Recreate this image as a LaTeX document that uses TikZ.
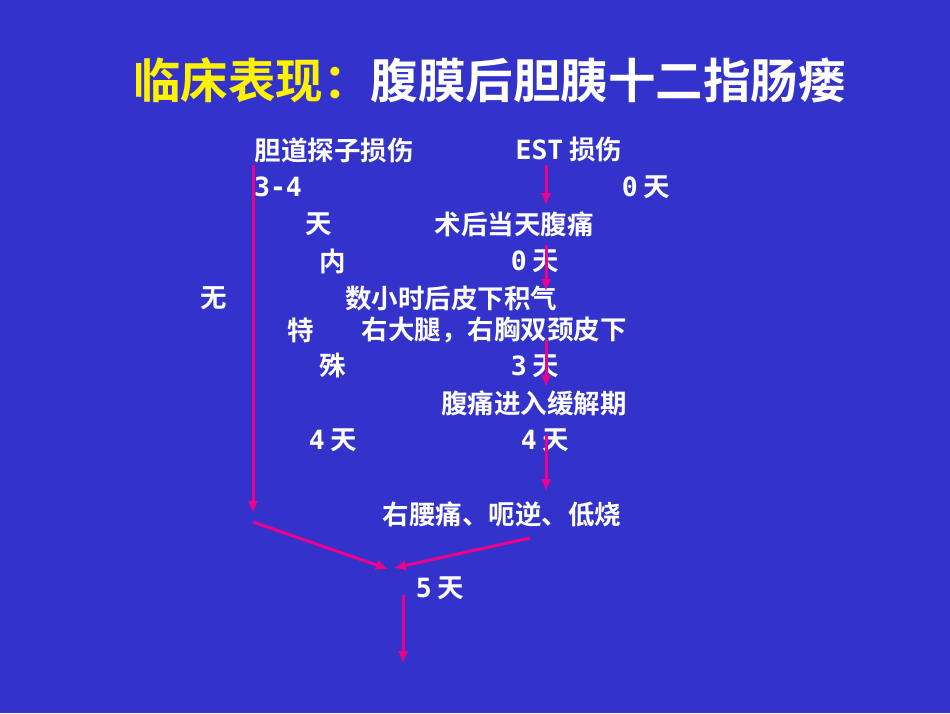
\documentclass[tikz,border=0pt]{standalone}
\usepackage{fontspec}
\usetikzlibrary{arrows.meta}
\setmainfont{Noto Sans CJK SC}[BoldFont={Noto Sans CJK SC Bold}]
\newfontfamily\digits{DejaVu Sans Mono}
\begin{document}
\begin{tikzpicture}
  [x=1pt,y=-1pt]
  \tikzstyle{txt} = [text=white, font=\bfseries\fontsize{26.5}{28}\selectfont, inner sep=0]
  \tikzstyle{edge_style} = [draw=magenta, line width=3, -{Latex[length=12pt,width=11pt]}]
  \fill[fill={rgb,255:red,51;green,51;blue,204}] (0,0) rectangle (950,713);
  \useasboundingbox (0,0) rectangle (950,713);

  \node[inner sep=0, anchor=west, font=\bfseries\fontsize{47.5}{50}\selectfont] (title) at (133,80)
    {\textcolor{yellow}{临床表现：}\textcolor{white}{腹膜后胆胰十二指肠瘘}};

  \node[txt] (probe) at (334,150) {胆道探子损伤};
  \node[txt] (est) at (569,150) {{\digits EST} 损伤};
  \node[txt] (d34) at (278,187) {\digits 3-4};
  \node[txt] (d0a) at (646,187) {{\digits 0} 天};
  \node[txt] (tian) at (319,224) {天};
  \node[txt] (pain) at (514,224) {术后当天腹痛};
  \node[txt] (nei) at (333,261) {内};
  \node[txt] (d0b) at (535,261) {{\digits 0} 天};
  \node[txt] (wu) at (214,298) {无};
  \node[txt] (gas) at (451,298) {数小时后皮下积气};
  \node[txt] (te) at (301,330) {特};
  \node[txt] (sites) at (494,330) {右大腿，右胸双颈皮下};
  \node[txt] (shu) at (333,366) {殊};
  \node[txt] (d3) at (535,366) {{\digits 3} 天};
  \node[txt] (relief) at (534,403) {腹痛进入缓解期};
  \node[txt] (d4a) at (333,440) {{\digits 4} 天};
  \node[txt] (d4b) at (545,440) {{\digits 4} 天};
  \node[txt] (waist) at (502,514) {右腰痛、呃逆、低烧};
  \node[txt] (d5) at (440,588) {{\digits 5} 天};

  \coordinate (l0) at (253,165);
  \coordinate (l1) at (253,513);
  \coordinate (r0) at (546,165);
  \coordinate (r1) at (546,205);
  \coordinate (r2) at (546,245);
  \coordinate (r3) at (546,291);
  \coordinate (r4) at (546,340);
  \coordinate (r5) at (546,387);
  \coordinate (r6) at (546,435);
  \coordinate (r7) at (546,491);
  \coordinate (ml) at (253,522);
  \coordinate (mr) at (530,538);
  \coordinate (m1) at (388,569);
  \coordinate (m2) at (394,568);
  \coordinate (b0) at (403,595);
  \coordinate (b1) at (403,663);

  \draw[edge_style] (l0) -- (l1);
  \draw[edge_style] (r0) -- (r1);
  \draw[edge_style] (r2) -- (r3);
  \draw[edge_style] (r4) -- (r5);
  \draw[edge_style] (r6) -- (r7);
  \draw[edge_style] (ml) -- (m1);
  \draw[edge_style] (mr) -- (m2);
  \draw[edge_style] (b0) -- (b1);
\end{tikzpicture}
\end{document}
